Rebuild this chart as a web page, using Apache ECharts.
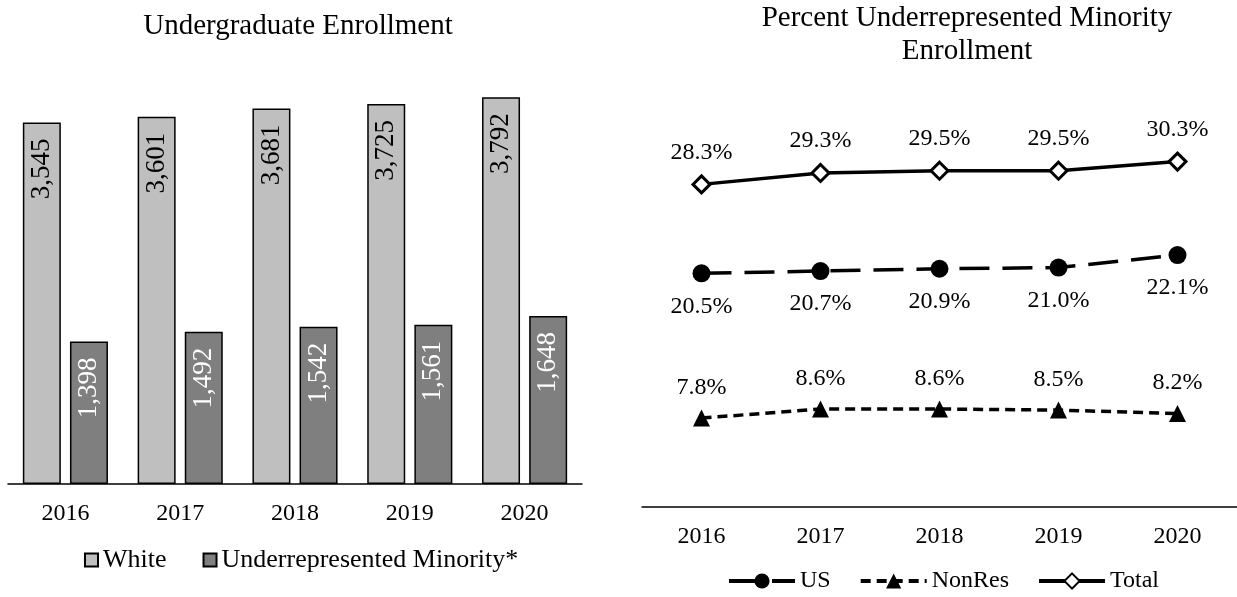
<!DOCTYPE html>
<html>
<head>
<meta charset="utf-8">
<script src="https://cdn.jsdelivr.net/npm/echarts@6/dist/echarts.min.js"></script>
<style>
html,body{margin:0;padding:0;background:#fff;}
#c{width:1237px;height:597px;}
</style>
</head>
<body>
<div id="c"></div>
<script>
var years = ['2016', '2017', '2018', '2019', '2020'];
var whiteVals = [3545, 3601, 3681, 3725, 3792];
var urmVals = [1398, 1492, 1542, 1561, 1648];
var usPct = [20.5, 20.7, 20.9, 21.0, 22.1];
var nonResPct = [7.8, 8.6, 8.6, 8.5, 8.2];
var totalPct = [28.3, 29.3, 29.5, 29.5, 30.3];

var FONT = '"Liberation Serif", "Times New Roman", serif';
var chart = echarts.init(document.getElementById('c'));

function fmtThousands(p) { return p.value.toLocaleString('en-US'); }
function fmtPct(p) { return p.value.toFixed(1) + '%'; }

var option = {
  animation: false,
  backgroundColor: '#fff',
  textStyle: { fontFamily: FONT, color: '#000' },
  graphic: [
    { type: 'text', x: 298, y: 12, style: { text: 'Undergraduate Enrollment', font: '29px ' + FONT, fill: '#000', align: 'center', textAlign: 'center', verticalAlign: 'top' } },
    { type: 'text', x: 967, y: 4, style: { text: 'Percent Underrepresented Minority', font: '29px ' + FONT, fill: '#000', align: 'center', textAlign: 'center', verticalAlign: 'top' } },
    { type: 'text', x: 967, y: 37, style: { text: 'Enrollment', font: '29px ' + FONT, fill: '#000', align: 'center', textAlign: 'center', verticalAlign: 'top' } }
  ],
  legend: [
    {
      data: ['White', 'Underrepresented Minority*'],
      left: 79, top: 542,
      itemWidth: 13, itemHeight: 13, itemGap: 36,
      textStyle: { fontFamily: FONT, fontSize: 26, color: '#000' },
      icon: 'rect'
    },
    {
      data: ['US', 'NonRes', 'Total'],
      left: 722, top: 564,
      itemWidth: 66, itemHeight: 19, itemGap: 28,
      lineStyle: { width: 4 },
      textStyle: { fontFamily: FONT, fontSize: 24, color: '#000' }
    }
  ],
  grid: [
    { left: 8, width: 574, top: 76, height: 408 },
    { left: 642, width: 597, top: 108, height: 399 }
  ],
  xAxis: [
    {
      type: 'category', gridIndex: 0, data: years,
      axisLine: { lineStyle: { color: '#000', width: 1.5 } },
      axisTick: { show: false },
      axisLabel: { fontFamily: FONT, fontSize: 24, color: '#000', margin: 18 }
    },
    {
      type: 'category', gridIndex: 1, data: years,
      axisLine: { lineStyle: { color: '#000', width: 1.5 } },
      axisTick: { show: false },
      axisLabel: { fontFamily: FONT, fontSize: 24, color: '#000', margin: 18 }
    }
  ],
  yAxis: [
    { type: 'value', gridIndex: 0, min: 0, max: 4000, show: false, splitLine: { show: false } },
    { type: 'value', gridIndex: 1, min: 0, max: 35, show: false, splitLine: { show: false } }
  ],
  series: [
    {
      name: 'White', type: 'bar', xAxisIndex: 0, yAxisIndex: 0, data: whiteVals,
      barWidth: 38, barGap: '24%',
      itemStyle: { color: '#BFBFBF', borderColor: '#000', borderWidth: 1.5 },
      label: { show: true, position: 'insideTop', rotate: 90, align: 'right', verticalAlign: 'middle', distance: 16,
        fontFamily: FONT, fontSize: 27, color: '#000', formatter: fmtThousands }
    },
    {
      name: 'Underrepresented Minority*', type: 'bar', xAxisIndex: 0, yAxisIndex: 0, data: urmVals,
      barWidth: 38,
      itemStyle: { color: '#7F7F7F', borderColor: '#000', borderWidth: 1.5 },
      label: { show: true, position: 'insideTop', rotate: 90, align: 'right', verticalAlign: 'middle', distance: 16,
        fontFamily: FONT, fontSize: 27, color: '#fff', formatter: fmtThousands }
    },
    {
      name: 'US', type: 'line', xAxisIndex: 1, yAxisIndex: 1, data: usPct,
      symbol: 'circle', symbolSize: 18,
      lineStyle: { color: '#000', width: 3.5, type: [30, 13] },
      itemStyle: { color: '#000' },
      label: { show: true, position: 'bottom', distance: 12, fontFamily: FONT, fontSize: 24, color: '#000', formatter: fmtPct }
    },
    {
      name: 'NonRes', type: 'line', xAxisIndex: 1, yAxisIndex: 1, data: nonResPct,
      symbol: 'triangle', symbolSize: 17,
      lineStyle: { color: '#000', width: 3.5, type: [10, 6] },
      itemStyle: { color: '#000' },
      label: { show: true, position: 'top', distance: 10, fontFamily: FONT, fontSize: 24, color: '#000', formatter: fmtPct }
    },
    {
      name: 'Total', type: 'line', xAxisIndex: 1, yAxisIndex: 1, data: totalPct,
      symbol: 'diamond', symbolSize: 17,
      lineStyle: { color: '#000', width: 3.5, type: 'solid' },
      itemStyle: { color: '#fff', borderColor: '#000', borderWidth: 3 },
      label: { show: true, position: 'top', distance: 10, fontFamily: FONT, fontSize: 24, color: '#000', formatter: fmtPct }
    }
  ]
};
chart.setOption(option);
</script>
</body>
</html>
